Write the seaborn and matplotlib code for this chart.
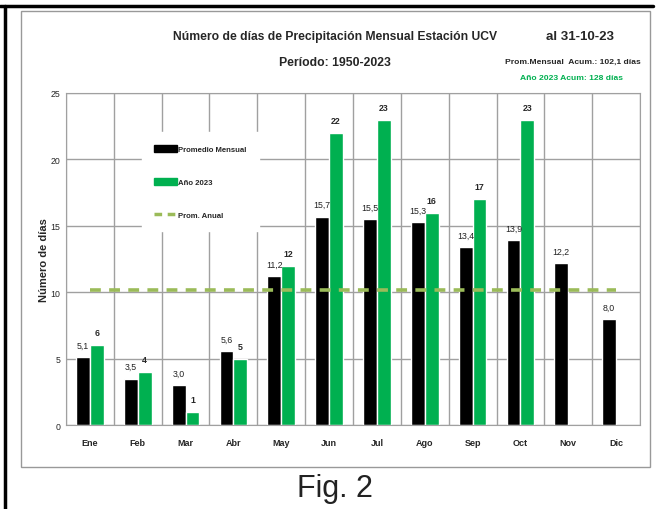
import pandas as pd
import numpy as np
import matplotlib.pyplot as plt
import matplotlib.lines as mlines
import matplotlib.patches as mpatches
import seaborn as sns

meses = ["Ene", "Feb", "Mar", "Abr", "May", "Jun", "Jul", "Ago", "Sep", "Oct", "Nov", "Dic"]
promedio = [5.1, 3.5, 3.0, 5.6, 11.2, 15.7, 15.5, 15.3, 13.4, 13.9, 12.2, 8.0]
anio_2023 = [6, 4, 1, 5, 12, 22, 23, 16, 17, 23, np.nan, np.nan]
prom_anual = 10.2

df = pd.DataFrame({
    "Mes": meses * 2,
    "Serie": ["Promedio Mensual"] * 12 + ["Año 2023"] * 12,
    "Dias": promedio + anio_2023,
}).dropna()

sns.set_style("white")
plt.rcParams['font.family'] = ['Liberation Sans', 'DejaVu Sans']

fig = plt.figure(figsize=(6.57, 5.10), dpi=100)
ax = fig.add_axes([66/657, 1 - 426/510, 574/657, 332/510])

sns.barplot(data=df, x="Mes", y="Dias", hue="Serie", order=meses,
            hue_order=["Promedio Mensual", "Año 2023"],
            palette=["#000000", "#00B050"], width=0.58, gap=0,
            saturation=1, ax=ax, legend=False)

# etiquetas de valores
negras = [b for b in ax.containers[0] if b is not None]
for b, v in zip(negras, promedio):
    ax.annotate(f"{v:.1f}".replace(".", ","), (b.get_x() + b.get_width() / 2, b.get_height()),
                xytext=(0, 8.5), textcoords="offset points", ha="center", va="center",
                fontsize=6.3, color="#222222")
verdes = [b for b in ax.containers[1] if b is not None]
for b, v in zip(verdes, [v for v in anio_2023 if not np.isnan(v)]):
    ax.annotate(f"{int(v)}", (b.get_x() + b.get_width() / 2, b.get_height()),
                xytext=(0, 9), textcoords="offset points", ha="center", va="center",
                fontsize=6.3, fontweight="bold")

ax.plot([0, 11], [prom_anual, prom_anual], color="#9BBB59", lw=2.6, ls=(0, (3, 2.3)))

ax.set_ylim(0, 25)
ax.set_xlim(-0.5, 11.5)
ax.set_yticks(range(0, 26, 5))
ax.set_xticks(range(12))
ax.set_xticklabels(meses, fontsize=6.5, fontweight="bold")
ax.tick_params(axis="y", labelsize=6.3, length=0, pad=4)
ax.tick_params(axis="x", length=0, pad=9)
ax.set_xlabel("")
ax.set_ylabel("Número de días", fontsize=8, fontweight="bold")
ax.yaxis.set_label_coords(-0.029, 0.5)

ax.set_xticks(np.arange(-0.5, 12, 1), minor=True)
ax.tick_params(axis="x", which="minor", length=0)
ax.grid(axis="y", color="#A0A0A0", lw=1)
ax.grid(axis="x", which="minor", color="#A0A0A0", lw=1)
ax.set_axisbelow(True)
for s in ax.spines.values():
    s.set_color("#A0A0A0")

h1 = mpatches.Patch(color="#000000", label="Promedio Mensual")
h2 = mpatches.Patch(color="#00B050", label="Año 2023")
h3 = mlines.Line2D([], [], color="#9BBB59", lw=2.5, ls=(0, (2.2, 1.6)), label="Prom. Anual")
leg = ax.legend(handles=[h1, h2, h3], loc="upper left", bbox_to_anchor=(0.125, 0.893),
                frameon=True, fancybox=False, edgecolor="white", framealpha=1,
                prop={"size": 5.6, "weight": "bold"}, labelspacing=3.15,
                handlelength=2.9, handleheight=1.05, handletextpad=0.15, borderpad=1.6)

fig.text(335/657, 1 - 37/510, "Número de días de Precipitación Mensual Estación UCV",
         ha="center", va="center", fontsize=8.7, fontweight="bold")
fig.text(335/657, 1 - 63/510, "Período: 1950-2023", ha="center", va="center",
         fontsize=8.8, fontweight="bold")
fig.text(580/657, 1 - 37/510, "al 31-10-23", ha="center", va="center",
         fontsize=9.5, fontweight="bold")
fig.text(573/657, 1 - 62/510, "Prom.Mensual  Acum.: 102,1 días", ha="center", va="center",
         fontsize=6.1, fontweight="bold")
fig.text(571/657, 1 - 78/510, "Año 2023 Acum: 128 días", ha="center", va="center",
         fontsize=6.1, fontweight="bold", color="#00B050")
fig.text(335/657, 1 - 489/510, "Fig. 2", ha="center", va="center", fontsize=22,
         color="#222222")

# marcos
fig.add_artist(mpatches.Rectangle((21/657, 1 - 468/510), 629/657, 456/510,
                                  transform=fig.transFigure, fill=False,
                                  edgecolor="#999999", lw=1))
fig.add_artist(mlines.Line2D([0, 653/657], [1 - 7/510, 1 - 7/510], color="black", lw=2.5,
                             transform=fig.transFigure))
fig.add_artist(mlines.Line2D([5/657, 5/657], [0, 1 - 7/510], color="black", lw=2.5,
                             transform=fig.transFigure))

fig.savefig("out.png", dpi=100, facecolor="white")
